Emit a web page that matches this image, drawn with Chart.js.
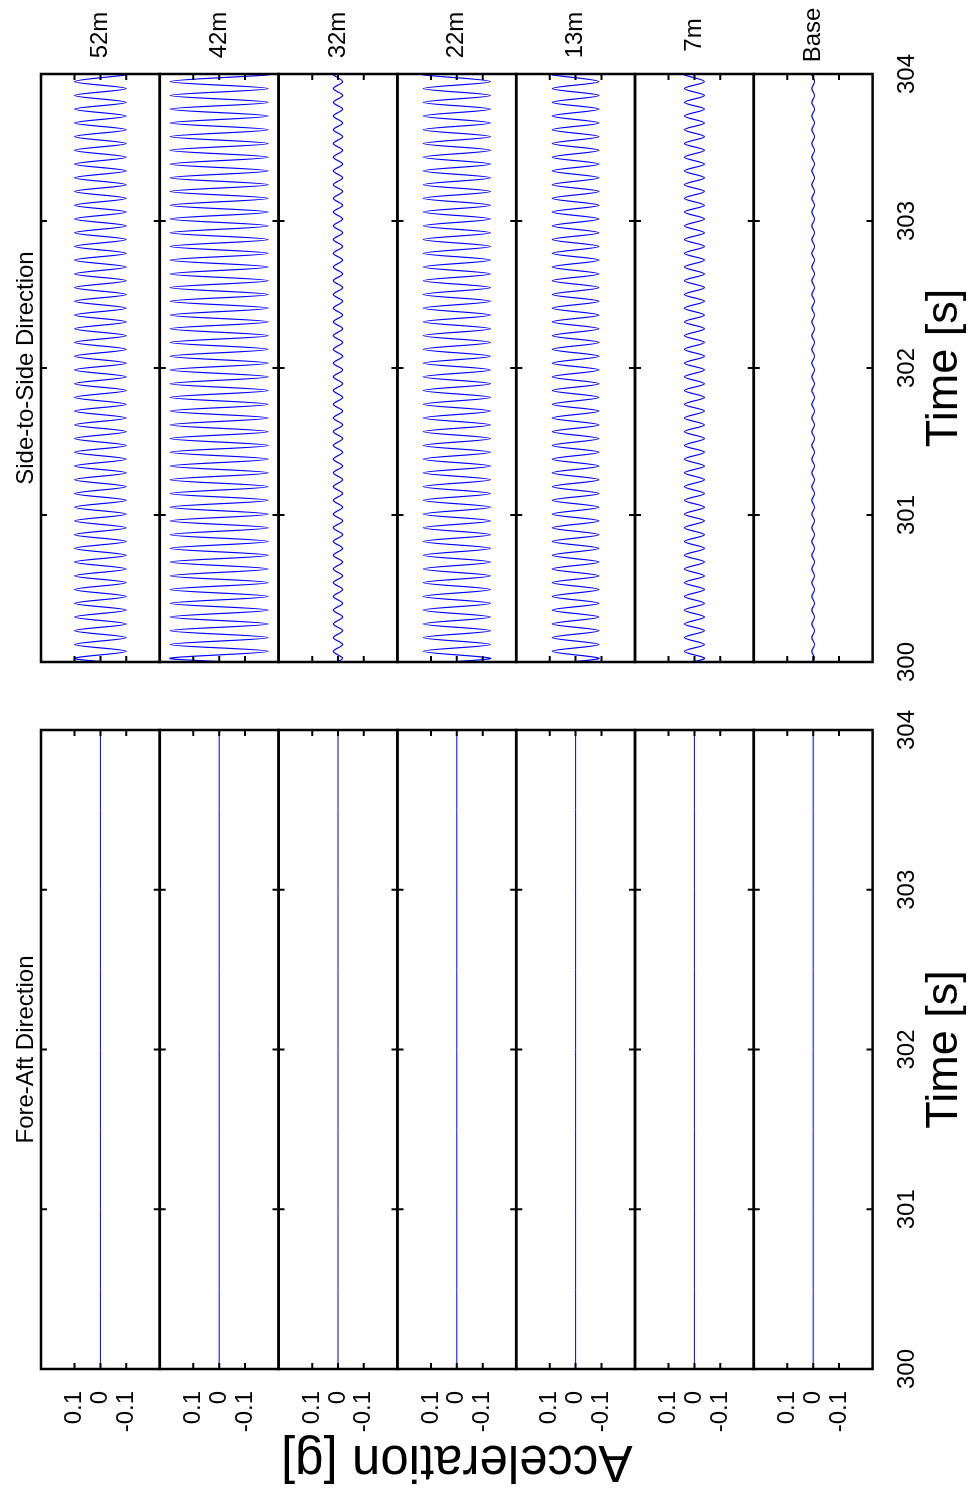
<!DOCTYPE html>
<html>

<head>
    <meta charset="utf-8">
    <script src="https://cdn.jsdelivr.net/npm/chart.js"></script>
    <style>
        html, body {
            margin: 0;
            padding: 0;
            background: #fff;
        }

        body {
            width: 969px;
            height: 1495px;
            overflow: hidden;
            position: relative;
        }

        /* figure is laid out landscape, then turned a quarter to the left */
        #figure {
            position: absolute;
            left: 0;
            top: 0;
            width: 1495px;
            height: 969px;
            transform-origin: 0 0;
            transform: translate(0, 1495px) rotate(-90deg);
        }

        #figure canvas {
            position: absolute;
            top: 0;
        }

        #foreAft { left: 0; }
        #sideToSide { left: 800px; }
    </style>
</head>

<body>
    <div id="figure">
        <canvas id="foreAft" width="800" height="969"></canvas>
        <canvas id="sideToSide" width="695" height="969"></canvas>
    </div>
    <script>
        const levels = ['52m', '42m', '32m', '22m', '13m', '7m', 'Base'];
        const timeTicks = [300, 301, 302, 303, 304];
        const yTicks = [-0.1, 0, 0.1];

        // fore-aft records: flat at zero
        const faTime = [300, 304];
        const fa52m = [0, 0];
        const fa42m = [0, 0];
        const fa32m = [0, 0];
        const fa22m = [0, 0];
        const fa13m = [0, 0];
        const fa7m = [0, 0];
        const faBase = [0, 0];

        // side-to-side records: start, every crest / trough, end
        const ssTime = [300,
            300.026, 300.073, 300.119, 300.166, 300.213, 300.259, 300.306, 300.353, 300.399, 300.446,
            300.493, 300.540, 300.586, 300.633, 300.680, 300.726, 300.773, 300.820, 300.866, 300.913,
            300.960, 301.006, 301.053, 301.100, 301.146, 301.193, 301.240, 301.287, 301.333, 301.380,
            301.427, 301.473, 301.520, 301.567, 301.613, 301.660, 301.707, 301.753, 301.800, 301.847,
            301.893, 301.940, 301.987, 302.033, 302.080, 302.127, 302.174, 302.220, 302.267, 302.314,
            302.360, 302.407, 302.454, 302.500, 302.547, 302.594, 302.640, 302.687, 302.734, 302.780,
            302.827, 302.874, 302.920, 302.967, 303.014, 303.061, 303.107, 303.154, 303.201, 303.247,
            303.294, 303.341, 303.387, 303.434, 303.481, 303.527, 303.574, 303.621, 303.667, 303.714,
            303.761, 303.807, 303.854, 303.901, 303.948, 303.994,
            304];

        const ss52m = [-0.018,
            0.1, -0.1, 0.1, -0.1, 0.1, -0.1, 0.1, -0.1, 0.1, -0.1,
            0.1, -0.1, 0.1, -0.1, 0.1, -0.1, 0.1, -0.1, 0.1, -0.1,
            0.1, -0.1, 0.1, -0.1, 0.1, -0.1, 0.1, -0.1, 0.1, -0.1,
            0.1, -0.1, 0.1, -0.1, 0.1, -0.1, 0.1, -0.1, 0.1, -0.1,
            0.1, -0.1, 0.1, -0.1, 0.1, -0.1, 0.1, -0.1, 0.1, -0.1,
            0.1, -0.1, 0.1, -0.1, 0.1, -0.1, 0.1, -0.1, 0.1, -0.1,
            0.1, -0.1, 0.1, -0.1, 0.1, -0.1, 0.1, -0.1, 0.1, -0.1,
            0.1, -0.1, 0.1, -0.1, 0.1, -0.1, 0.1, -0.1, 0.1, -0.1,
            0.1, -0.1, 0.1, -0.1, 0.1, -0.1,
            -0.092];

        const ss42m = [-0.034,
            0.19, -0.19, 0.19, -0.19, 0.19, -0.19, 0.19, -0.19, 0.19, -0.19,
            0.19, -0.19, 0.19, -0.19, 0.19, -0.19, 0.19, -0.19, 0.19, -0.19,
            0.19, -0.19, 0.19, -0.19, 0.19, -0.19, 0.19, -0.19, 0.19, -0.19,
            0.19, -0.19, 0.19, -0.19, 0.19, -0.19, 0.19, -0.19, 0.19, -0.19,
            0.19, -0.19, 0.19, -0.19, 0.19, -0.19, 0.19, -0.19, 0.19, -0.19,
            0.19, -0.19, 0.19, -0.19, 0.19, -0.19, 0.19, -0.19, 0.19, -0.19,
            0.19, -0.19, 0.19, -0.19, 0.19, -0.19, 0.19, -0.19, 0.19, -0.19,
            0.19, -0.19, 0.19, -0.19, 0.19, -0.19, 0.19, -0.19, 0.19, -0.19,
            0.19, -0.19, 0.19, -0.19, 0.19, -0.19,
            -0.175];

        const ss32m = [0.003,
            -0.018, 0.018, -0.018, 0.018, -0.018, 0.018, -0.018, 0.018, -0.018, 0.018,
            -0.018, 0.018, -0.018, 0.018, -0.018, 0.018, -0.018, 0.018, -0.018, 0.018,
            -0.018, 0.018, -0.018, 0.018, -0.018, 0.018, -0.018, 0.018, -0.018, 0.018,
            -0.018, 0.018, -0.018, 0.018, -0.018, 0.018, -0.018, 0.018, -0.018, 0.018,
            -0.018, 0.018, -0.018, 0.018, -0.018, 0.018, -0.018, 0.018, -0.018, 0.018,
            -0.018, 0.018, -0.018, 0.018, -0.018, 0.018, -0.018, 0.018, -0.018, 0.018,
            -0.018, 0.018, -0.018, 0.018, -0.018, 0.018, -0.018, 0.018, -0.018, 0.018,
            -0.018, 0.018, -0.018, 0.018, -0.018, 0.018, -0.018, 0.018, -0.018, 0.018,
            -0.018, 0.018, -0.018, 0.018, -0.018, 0.018,
            0.017];

        const ss22m = [0.023,
            -0.13, 0.13, -0.13, 0.13, -0.13, 0.13, -0.13, 0.13, -0.13, 0.13,
            -0.13, 0.13, -0.13, 0.13, -0.13, 0.13, -0.13, 0.13, -0.13, 0.13,
            -0.13, 0.13, -0.13, 0.13, -0.13, 0.13, -0.13, 0.13, -0.13, 0.13,
            -0.13, 0.13, -0.13, 0.13, -0.13, 0.13, -0.13, 0.13, -0.13, 0.13,
            -0.13, 0.13, -0.13, 0.13, -0.13, 0.13, -0.13, 0.13, -0.13, 0.13,
            -0.13, 0.13, -0.13, 0.13, -0.13, 0.13, -0.13, 0.13, -0.13, 0.13,
            -0.13, 0.13, -0.13, 0.13, -0.13, 0.13, -0.13, 0.13, -0.13, 0.13,
            -0.13, 0.13, -0.13, 0.13, -0.13, 0.13, -0.13, 0.13, -0.13, 0.13,
            -0.13, 0.13, -0.13, 0.13, -0.13, 0.13,
            0.12];

        const ss13m = [0.016,
            -0.09, 0.09, -0.09, 0.09, -0.09, 0.09, -0.09, 0.09, -0.09, 0.09,
            -0.09, 0.09, -0.09, 0.09, -0.09, 0.09, -0.09, 0.09, -0.09, 0.09,
            -0.09, 0.09, -0.09, 0.09, -0.09, 0.09, -0.09, 0.09, -0.09, 0.09,
            -0.09, 0.09, -0.09, 0.09, -0.09, 0.09, -0.09, 0.09, -0.09, 0.09,
            -0.09, 0.09, -0.09, 0.09, -0.09, 0.09, -0.09, 0.09, -0.09, 0.09,
            -0.09, 0.09, -0.09, 0.09, -0.09, 0.09, -0.09, 0.09, -0.09, 0.09,
            -0.09, 0.09, -0.09, 0.09, -0.09, 0.09, -0.09, 0.09, -0.09, 0.09,
            -0.09, 0.09, -0.09, 0.09, -0.09, 0.09, -0.09, 0.09, -0.09, 0.09,
            -0.09, 0.09, -0.09, 0.09, -0.09, 0.09,
            0.083];

        const ss7m = [0.007,
            -0.039, 0.039, -0.039, 0.039, -0.039, 0.039, -0.039, 0.039, -0.039, 0.039,
            -0.039, 0.039, -0.039, 0.039, -0.039, 0.039, -0.039, 0.039, -0.039, 0.039,
            -0.039, 0.039, -0.039, 0.039, -0.039, 0.039, -0.039, 0.039, -0.039, 0.039,
            -0.039, 0.039, -0.039, 0.039, -0.039, 0.039, -0.039, 0.039, -0.039, 0.039,
            -0.039, 0.039, -0.039, 0.039, -0.039, 0.039, -0.039, 0.039, -0.039, 0.039,
            -0.039, 0.039, -0.039, 0.039, -0.039, 0.039, -0.039, 0.039, -0.039, 0.039,
            -0.039, 0.039, -0.039, 0.039, -0.039, 0.039, -0.039, 0.039, -0.039, 0.039,
            -0.039, 0.039, -0.039, 0.039, -0.039, 0.039, -0.039, 0.039, -0.039, 0.039,
            -0.039, 0.039, -0.039, 0.039, -0.039, 0.039,
            0.036];

        const ssBase = [0.001,
            -0.005, 0.005, -0.005, 0.005, -0.005, 0.005, -0.005, 0.005, -0.005, 0.005,
            -0.005, 0.005, -0.005, 0.005, -0.005, 0.005, -0.005, 0.005, -0.005, 0.005,
            -0.005, 0.005, -0.005, 0.005, -0.005, 0.005, -0.005, 0.005, -0.005, 0.005,
            -0.005, 0.005, -0.005, 0.005, -0.005, 0.005, -0.005, 0.005, -0.005, 0.005,
            -0.005, 0.005, -0.005, 0.005, -0.005, 0.005, -0.005, 0.005, -0.005, 0.005,
            -0.005, 0.005, -0.005, 0.005, -0.005, 0.005, -0.005, 0.005, -0.005, 0.005,
            -0.005, 0.005, -0.005, 0.005, -0.005, 0.005, -0.005, 0.005, -0.005, 0.005,
            -0.005, 0.005, -0.005, 0.005, -0.005, 0.005, -0.005, 0.005, -0.005, 0.005,
            -0.005, 0.005, -0.005, 0.005, -0.005, 0.005,
            0.005];

        const fontFamily = '"Liberation Sans", Arial, Helvetica, sans-serif';
        Chart.defaults.color = '#000';
        Chart.defaults.font.family = fontFamily;

        // frames, inward tick marks and all captions of one panel
        const panelDecor = {
            id: 'panelDecor',
            afterDatasetsDraw(chart, args, opts) {
                const ctx = chart.ctx;
                const area = chart.chartArea;
                const xs = chart.scales.x;
                const yScales = levels.map((_, i) => chart.scales['y' + i]);

                ctx.save();
                ctx.strokeStyle = '#000';
                ctx.lineWidth = 2;
                ctx.beginPath();
                yScales.forEach(ys => {
                    yTicks.forEach(v => {
                        const py = ys.getPixelForValue(v);
                        ctx.moveTo(area.left, py); ctx.lineTo(area.left + 6, py);
                        ctx.moveTo(area.right - 6, py); ctx.lineTo(area.right, py);
                    });
                    timeTicks.forEach(t => {
                        const px = xs.getPixelForValue(t);
                        ctx.moveTo(px, ys.top); ctx.lineTo(px, ys.top + 6);
                        ctx.moveTo(px, ys.bottom - 6); ctx.lineTo(px, ys.bottom);
                    });
                });
                ctx.stroke();

                ctx.lineWidth = 2.5;
                yScales.forEach(ys => {
                    ctx.strokeRect(area.left, ys.top, area.right - area.left, ys.bottom - ys.top);
                });

                const cx = (area.left + area.right) / 2;
                ctx.fillStyle = '#000';
                ctx.textAlign = 'center';
                ctx.textBaseline = 'alphabetic';
                ctx.font = '24px ' + fontFamily;
                ctx.fillText(opts.title, cx, area.top - 8);
                ctx.font = '45px ' + fontFamily;
                ctx.fillText('Time [s]', cx, area.bottom + 84);

                if (opts.yTitle) {
                    ctx.save();
                    ctx.translate(49, (area.top + area.bottom) / 2);
                    ctx.rotate(-Math.PI / 2);
                    ctx.font = '51px ' + fontFamily;
                    ctx.fillText(opts.yTitle, 0, 0);
                    ctx.restore();
                }

                if (opts.levelLabels) {
                    ctx.font = '24px ' + fontFamily;
                    ctx.textBaseline = 'middle';
                    yScales.forEach((ys, i) => {
                        ctx.fillText(levels[i], area.right + 39, (ys.top + ys.bottom) / 2);
                    });
                }
                ctx.restore();
            }
        };

        function buildPanel(canvasId, times, series, cfg) {
            const scales = {
                x: {
                    type: 'linear',
                    position: 'bottom',
                    min: 300,
                    max: 304,
                    afterBuildTicks: s => { s.ticks = timeTicks.map(v => ({ value: v })); },
                    afterFit: s => {
                        s.height = 96.4;
                        s.paddingLeft = 0;
                        s.paddingRight = 0;
                    },
                    grid: { display: false, drawTicks: false },
                    border: { display: false },
                    ticks: {
                        font: { size: 24 },
                        padding: 20,
                        maxRotation: 0,
                        autoSkip: false,
                        callback: v => String(v)
                    }
                }
            };

            levels.forEach((name, i) => {
                scales['y' + i] = {
                    type: 'linear',
                    position: 'left',
                    stack: 'levels',
                    stackWeight: 1,
                    weight: levels.length - i,
                    min: -0.23,
                    max: 0.23,
                    afterBuildTicks: s => { s.ticks = yTicks.map(v => ({ value: v })); },
                    afterFit: s => {
                        s.width = cfg.axisWidth;
                        s.paddingTop = 0;
                        s.paddingBottom = 0;
                    },
                    grid: { display: false, drawTicks: false },
                    border: { display: false },
                    ticks: {
                        display: cfg.yLabels,
                        font: { size: 24 },
                        padding: 22,
                        autoSkip: false,
                        callback: v => String(v)
                    }
                };
            });

            const datasets = series.map((vals, i) => ({
                label: levels[i],
                data: times.map((t, k) => ({ x: t, y: vals[k] })),
                yAxisID: 'y' + i,
                borderColor: '#0000ff',
                borderWidth: cfg.lineWidth,
                pointRadius: 0,
                tension: 0.33,
                fill: false
            }));

            return new Chart(document.getElementById(canvasId), {
                type: 'line',
                data: { datasets: datasets },
                options: {
                    responsive: false,
                    animation: false,
                    layout: { padding: cfg.padding },
                    plugins: {
                        legend: { display: false },
                        tooltip: { enabled: false },
                        panelDecor: {
                            title: cfg.title,
                            yTitle: cfg.yTitle,
                            levelLabels: cfg.levelLabels
                        }
                    },
                    scales: scales
                },
                plugins: [panelDecor]
            });
        }

        buildPanel('foreAft', faTime,
            [fa52m, fa42m, fa32m, fa22m, fa13m, fa7m, faBase], {
                title: 'Fore-Aft Direction',
                yTitle: 'Acceleration [g]',
                levelLabels: false,
                yLabels: true,
                axisWidth: 126,
                lineWidth: 1,
                padding: { left: 0, top: 41, right: 35, bottom: 0 }
            });

        buildPanel('sideToSide', ssTime,
            [ss52m, ss42m, ss32m, ss22m, ss13m, ss7m, ssBase], {
                title: 'Side-to-Side Direction',
                yTitle: null,
                levelLabels: true,
                yLabels: false,
                axisWidth: 0,
                lineWidth: 1.2,
                padding: { left: 33, top: 41, right: 74, bottom: 0 }
            });
    </script>
</body>

</html>
